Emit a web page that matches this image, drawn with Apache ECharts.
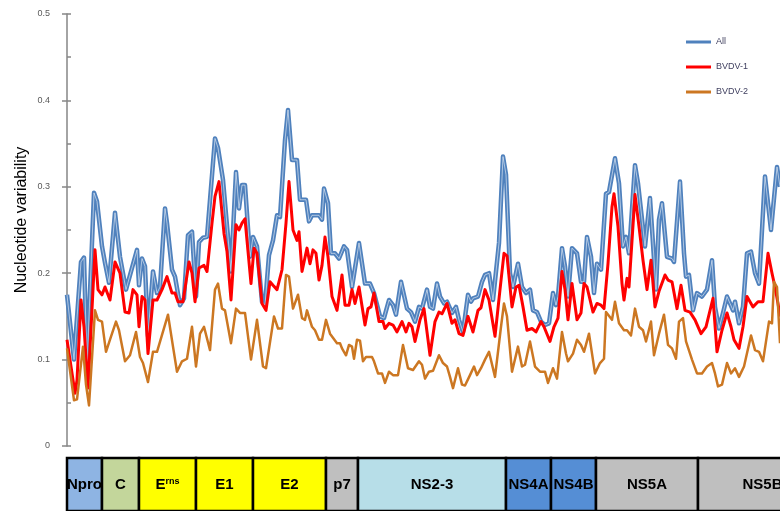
<!DOCTYPE html>
<html>
<head>
<meta charset="utf-8">
<title>Nucleotide variability along the BVDV genome</title>
<script src="https://cdn.jsdelivr.net/npm/echarts@6/dist/echarts.min.js"></script>
<style>
  html, body { margin: 0; padding: 0; background: #ffffff; }
  #chart { width: 780px; height: 511px; }
</style>
</head>
<body>
<div id="chart"></div>
<script>
// Sliding-window positions (window index along the polyprotein) and variability values
var allPos = [0,7,14,17,20,27,30,35,38,40,42,48,53,59,61,70,72,75,78,81,86,90,93,98,100,105,108,113,117,121,125,129,132,136,140,148,151,156,164,169,172,175,178,183,186,190,195,198,202,206,210,213,218,221,225,230,233,239,242,245,252,255,257,261,264,268,272,277,280,285,292,298,303,307,313,317,322,326,329,334,336,340,344,348,352,355,360,363,366,370,373,377,380,385,389,392,396,401,404,406,411,415,418,422,426,432,436,439,443,446,451,455,459,463,466,470,474,478,482,486,489,491,495,498,501,505,510,514,517,520,524,527,530,534,539,542,548,552,556,559,562,568,571,578,583,589,592,595,600,605,607,613,617,619,622,626,630,635,640,645,648,652,656,660,663,666,668,672,676,680,684,688,692,698,704,710,713];
var allVal = [0.175,0.100,0.213,0.218,0.092,0.293,0.283,0.231,0.212,0.210,0.189,0.270,0.219,0.181,0.179,0.227,0.186,0.217,0.208,0.127,0.202,0.177,0.184,0.275,0.258,0.204,0.196,0.163,0.171,0.244,0.248,0.173,0.236,0.241,0.242,0.356,0.345,0.308,0.202,0.317,0.275,0.302,0.302,0.219,0.242,0.231,0.167,0.163,0.221,0.238,0.267,0.265,0.354,0.389,0.331,0.331,0.285,0.285,0.260,0.267,0.267,0.262,0.298,0.281,0.223,0.223,0.217,0.231,0.227,0.184,0.235,0.188,0.188,0.177,0.150,0.148,0.169,0.163,0.152,0.190,0.190,0.159,0.155,0.144,0.161,0.159,0.181,0.161,0.159,0.188,0.173,0.165,0.167,0.154,0.161,0.146,0.132,0.175,0.167,0.171,0.173,0.190,0.198,0.200,0.169,0.235,0.335,0.314,0.200,0.184,0.211,0.184,0.177,0.181,0.157,0.155,0.144,0.140,0.142,0.177,0.163,0.173,0.229,0.208,0.173,0.229,0.223,0.190,0.190,0.242,0.219,0.177,0.211,0.204,0.292,0.294,0.333,0.304,0.231,0.242,0.223,0.325,0.304,0.231,0.287,0.181,0.262,0.281,0.219,0.217,0.213,0.306,0.223,0.196,0.198,0.157,0.177,0.173,0.181,0.215,0.161,0.136,0.154,0.173,0.165,0.157,0.167,0.142,0.161,0.223,0.225,0.200,0.188,0.312,0.250,0.323,0.300];

var bvdv1Pos = [0,8,10,14,17,21,28,31,35,38,43,48,53,58,62,66,70,72,75,78,81,86,90,95,100,105,108,111,116,122,125,128,132,137,140,145,148,152,157,160,164,169,172,175,178,184,187,190,195,199,203,206,210,215,219,222,226,230,232,235,240,243,246,249,252,255,258,261,265,267,270,275,278,282,285,288,292,298,301,304,307,312,316,318,322,326,330,335,339,342,345,348,353,357,363,368,372,375,380,385,388,392,396,401,406,411,414,418,422,428,433,437,440,445,449,452,456,460,465,469,474,477,483,487,491,495,498,501,505,510,514,517,520,526,530,534,537,541,545,547,551,555,557,560,562,568,572,576,580,584,588,592,598,601,605,610,614,618,623,628,634,639,646,650,655,660,664,667,672,676,680,686,691,696,701,705,708,711,713];
var bvdv1Val = [0.123,0.061,0.076,0.169,0.138,0.067,0.227,0.181,0.175,0.184,0.169,0.213,0.200,0.155,0.154,0.181,0.175,0.138,0.173,0.169,0.107,0.169,0.169,0.181,0.196,0.177,0.177,0.167,0.167,0.213,0.200,0.167,0.206,0.209,0.202,0.258,0.289,0.306,0.246,0.225,0.169,0.256,0.250,0.258,0.263,0.188,0.229,0.223,0.165,0.157,0.190,0.186,0.181,0.204,0.258,0.306,0.250,0.238,0.248,0.202,0.229,0.211,0.227,0.223,0.192,0.209,0.242,0.219,0.173,0.171,0.157,0.198,0.163,0.163,0.181,0.165,0.184,0.140,0.159,0.161,0.177,0.144,0.144,0.136,0.142,0.140,0.132,0.144,0.132,0.142,0.138,0.121,0.146,0.159,0.105,0.144,0.155,0.153,0.165,0.142,0.146,0.130,0.128,0.150,0.132,0.157,0.160,0.181,0.169,0.127,0.181,0.223,0.220,0.161,0.184,0.186,0.161,0.134,0.136,0.132,0.144,0.138,0.121,0.138,0.148,0.202,0.181,0.146,0.188,0.146,0.154,0.188,0.184,0.155,0.165,0.163,0.159,0.211,0.277,0.292,0.254,0.188,0.169,0.194,0.184,0.291,0.254,0.215,0.181,0.215,0.161,0.179,0.198,0.192,0.190,0.159,0.186,0.157,0.155,0.146,0.130,0.138,0.171,0.109,0.134,0.154,0.138,0.123,0.113,0.138,0.173,0.161,0.167,0.167,0.223,0.200,0.184,0.165,0.150];

var bvdv2Pos = [0,7,10,16,19,22,28,31,35,39,43,49,52,58,63,69,73,76,81,86,90,101,106,110,115,120,125,129,133,137,143,148,151,155,158,164,169,173,178,184,190,196,199,207,211,215,219,222,226,228,231,235,238,240,245,248,252,255,259,263,270,273,275,279,282,285,287,290,293,296,299,305,307,311,315,318,322,326,331,336,341,346,352,355,358,362,366,372,376,380,383,386,391,395,398,403,407,410,414,418,422,428,434,437,440,445,451,455,458,463,468,473,478,481,486,490,495,499,501,506,510,514,517,522,528,533,537,539,545,548,552,557,560,564,568,572,576,579,584,587,592,597,601,605,609,612,616,619,625,630,635,640,645,648,651,655,660,664,668,672,677,684,688,692,696,702,705,707,710,713];
var bvdv2Val = [0.113,0.053,0.054,0.115,0.071,0.047,0.157,0.146,0.144,0.109,0.123,0.144,0.134,0.098,0.105,0.132,0.103,0.096,0.074,0.109,0.109,0.152,0.115,0.086,0.098,0.101,0.138,0.092,0.130,0.138,0.111,0.181,0.188,0.159,0.157,0.119,0.159,0.154,0.154,0.100,0.146,0.092,0.090,0.150,0.136,0.136,0.198,0.196,0.159,0.159,0.175,0.148,0.146,0.157,0.138,0.134,0.123,0.123,0.146,0.130,0.119,0.119,0.113,0.105,0.117,0.115,0.101,0.123,0.122,0.098,0.103,0.103,0.098,0.084,0.084,0.073,0.086,0.082,0.082,0.117,0.090,0.088,0.098,0.094,0.078,0.086,0.087,0.105,0.096,0.092,0.080,0.067,0.090,0.071,0.070,0.082,0.092,0.082,0.090,0.100,0.109,0.080,0.138,0.165,0.150,0.086,0.115,0.092,0.094,0.121,0.092,0.086,0.086,0.073,0.090,0.078,0.132,0.107,0.098,0.107,0.123,0.117,0.109,0.130,0.084,0.096,0.101,0.155,0.146,0.167,0.142,0.134,0.134,0.128,0.159,0.138,0.134,0.121,0.144,0.105,0.130,0.152,0.117,0.113,0.101,0.144,0.148,0.121,0.100,0.084,0.084,0.092,0.096,0.084,0.069,0.071,0.096,0.084,0.090,0.080,0.092,0.128,0.111,0.109,0.098,0.144,0.142,0.190,0.184,0.119];

// Genome map: protein regions and their window ranges
var geneNames  = ['Npro','C','Erns','E1','E2','p7','NS2-3','NS4A','NS4B','NS5A','NS5B'];
var geneStarts = [0, 35, 72, 129, 186, 259, 291, 439, 484, 529, 631];
var geneEnds   = [35, 72, 129, 186, 259, 291, 439, 484, 529, 631, 760];

// Y axis tick labels
var yTickLabels = ['0', '0.1', '0.2', '0.3', '0.4', '0.5'];

function pairs(xs, ys) {
  return xs.map(function (x, i) { return [x, ys[i]]; });
}

var geneFill = {
  'Npro': '#8EB4E3', 'C': '#C3D69B', 'Erns': '#FFFF00', 'E1': '#FFFF00', 'E2': '#FFFF00',
  'p7': '#BFBFBF', 'NS2-3': '#B7DEE8', 'NS4A': '#558ED5', 'NS4B': '#558ED5',
  'NS5A': '#BFBFBF', 'NS5B': '#BFBFBF'
};

var FONT = '"Liberation Sans", Arial, sans-serif';
var chart = echarts.init(document.getElementById('chart'), null, { renderer: 'canvas' });

var option = {
  animation: false,
  backgroundColor: '#ffffff',
  grid: [
    { left: 67, right: 0, top: 14, bottom: 65 },
    { left: 67, right: 0, top: 458, height: 60 }
  ],
  xAxis: [
    { type: 'value', gridIndex: 0, min: 0, max: 713, show: false },
    { type: 'value', gridIndex: 1, min: 0, max: 713, show: false }
  ],
  yAxis: [
    {
      type: 'value', gridIndex: 0, min: 0, max: 0.5, interval: 0.1,
      axisLine: { show: true, lineStyle: { color: '#868686', width: 1.5 } },
      axisTick: { show: true, inside: false, length: 5, lineStyle: { color: '#868686', width: 1.5 } },
      splitLine: { show: false },
      axisLabel: {
        color: '#595959', fontSize: 9, fontFamily: FONT, margin: 17,
        formatter: function (v) { return yTickLabels[Math.round(v * 10)]; }
      }
    },
    {
      type: 'value', gridIndex: 0, min: 0, max: 0.5, interval: 0.05, position: 'left',
      axisLine: { show: false },
      axisTick: { show: true, inside: true, length: 4, lineStyle: { color: '#868686', width: 1.5 } },
      splitLine: { show: false },
      axisLabel: { show: false }
    },
    { type: 'value', gridIndex: 1, min: 0, max: 1, show: false }
  ],
  legend: {
    data: [
      { name: 'All', icon: 'rect' },
      { name: 'BVDV-1', icon: 'rect' },
      { name: 'BVDV-2', icon: 'rect' }
    ],
    orient: 'vertical',
    left: 681, top: 31,
    itemWidth: 25, itemHeight: 3, itemGap: 13,
    textStyle: { color: '#3F3F5F', fontSize: 9, fontFamily: FONT, lineHeight: 12 },
    selectedMode: false
  },
  graphic: [
    {
      type: 'text', x: 22, y: 220, rotation: Math.PI / 2,
      style: {
        text: 'Nucleotide variability', fill: '#000000',
        fontSize: 16, fontFamily: FONT, align: 'center', verticalAlign: 'middle'
      }
    }
  ],
  series: [
    {
      name: 'All', type: 'line', xAxisIndex: 0, yAxisIndex: 0,
      data: pairs(allPos, allVal), symbol: 'none',
      lineStyle: { color: '#4F81BD', width: 4.5, join: 'round' },
      itemStyle: { color: '#4F81BD' }
    },
    {
      name: 'All-core', type: 'line', xAxisIndex: 0, yAxisIndex: 0,
      data: pairs(allPos, allVal), symbol: 'none', silent: true,
      lineStyle: { color: 'rgba(255,255,255,0.55)', width: 1, join: 'round' }
    },
    {
      name: 'BVDV-1', type: 'line', xAxisIndex: 0, yAxisIndex: 0,
      data: pairs(bvdv1Pos, bvdv1Val), symbol: 'none',
      lineStyle: { color: '#FF0000', width: 3, join: 'round' },
      itemStyle: { color: '#FF0000' }
    },
    {
      name: 'BVDV-2', type: 'line', xAxisIndex: 0, yAxisIndex: 0,
      data: pairs(bvdv2Pos, bvdv2Val), symbol: 'none',
      lineStyle: { color: '#CC7722', width: 2.5, join: 'round' },
      itemStyle: { color: '#CC7722' }
    },
    {
      name: 'Genome map', type: 'custom', xAxisIndex: 1, yAxisIndex: 2,
      silent: true, clip: false,
      data: geneNames.map(function (n, i) { return [geneStarts[i], geneEnds[i]]; }),
      renderItem: function (params, api) {
        var p0 = api.coord([api.value(0), 1]);
        var p1 = api.coord([api.value(1), 0]);
        var name = geneNames[params.dataIndex];
        var cx = (p0[0] + p1[0]) / 2;
        var cy = p0[1] + 27;
        var isErns = name === 'Erns';
        return {
          type: 'group',
          children: [
            {
              type: 'rect',
              shape: { x: p0[0], y: p0[1], width: p1[0] - p0[0], height: p1[1] - p0[1] },
              style: { fill: geneFill[name], stroke: '#000000', lineWidth: 2.5 }
            },
            {
              type: 'text', x: cx, y: cy,
              style: {
                text: isErns ? '{m|E}{s|rns}' : name,
                fill: '#000000', fontSize: 15, fontWeight: 'bold', fontFamily: FONT,
                align: 'center', verticalAlign: 'middle',
                rich: {
                  m: { fontSize: 15, fontWeight: 'bold', fontFamily: FONT, fill: '#000000' },
                  s: { fontSize: 9, fontWeight: 'bold', fontFamily: FONT, fill: '#000000', verticalAlign: 'top' }
                }
              }
            }
          ]
        };
      }
    }
  ]
};

chart.setOption(option);
</script>
</body>
</html>
